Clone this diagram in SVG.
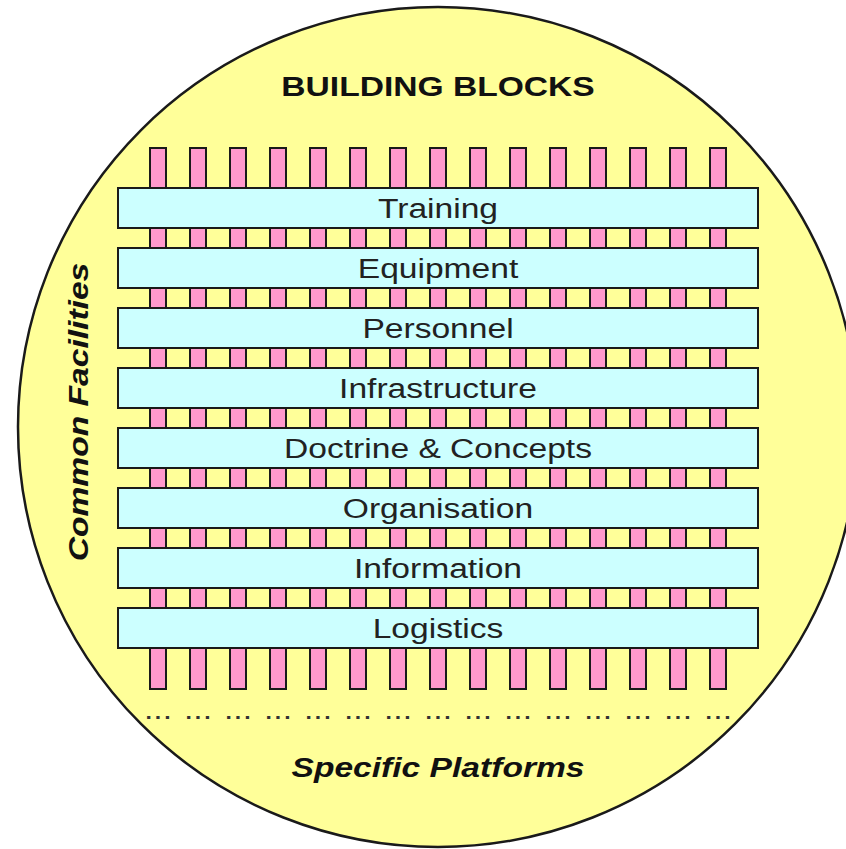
<svg xmlns="http://www.w3.org/2000/svg" width="846" height="849" viewBox="0 0 846 849">
<style>
.bg{fill:#ffff99;stroke:#1a1a1a;stroke-width:2.5}
.pil{fill:#ff99cc;stroke:#1a1a1a;stroke-width:2}
.bar{fill:#ccffff;stroke:#1a1a1a;stroke-width:2}
.lbl{font-family:"Liberation Sans",Arial,sans-serif;font-size:28px;fill:#222;text-anchor:middle}
.ttl{font-family:"Liberation Sans",Arial,sans-serif;font-size:28px;font-weight:bold;fill:#111;text-anchor:middle}
.it{font-style:italic}
.dots{font-family:"Liberation Sans",Arial,sans-serif;font-size:28px;fill:#333;text-anchor:middle}
</style>
<rect width="846" height="849" fill="#ffffff"/>
<circle id="circle" class="bg" cx="438" cy="427" r="420"/>
<g id="title"><text class="ttl" transform="translate(438,96) scale(1.2,1)">BUILDING BLOCKS</text></g>
<g id="side"><text class="ttl it" transform="translate(88,412) rotate(-90) scale(1.2,1)">Common Facilities</text></g>
<g id="bottom"><text class="ttl it" transform="translate(438,777) scale(1.2,1)">Specific Platforms</text></g>
<g id="pillars">
<rect class="pil" x="150" y="148" width="16" height="541"/>
<rect class="pil" x="190" y="148" width="16" height="541"/>
<rect class="pil" x="230" y="148" width="16" height="541"/>
<rect class="pil" x="270" y="148" width="16" height="541"/>
<rect class="pil" x="310" y="148" width="16" height="541"/>
<rect class="pil" x="350" y="148" width="16" height="541"/>
<rect class="pil" x="390" y="148" width="16" height="541"/>
<rect class="pil" x="430" y="148" width="16" height="541"/>
<rect class="pil" x="470" y="148" width="16" height="541"/>
<rect class="pil" x="510" y="148" width="16" height="541"/>
<rect class="pil" x="550" y="148" width="16" height="541"/>
<rect class="pil" x="590" y="148" width="16" height="541"/>
<rect class="pil" x="630" y="148" width="16" height="541"/>
<rect class="pil" x="670" y="148" width="16" height="541"/>
<rect class="pil" x="710" y="148" width="16" height="541"/>
</g>
<g id="dots">
<text class="dots" transform="translate(158,719) scale(1.2,1)">...</text>
<text class="dots" transform="translate(198,719) scale(1.2,1)">...</text>
<text class="dots" transform="translate(238,719) scale(1.2,1)">...</text>
<text class="dots" transform="translate(278,719) scale(1.2,1)">...</text>
<text class="dots" transform="translate(318,719) scale(1.2,1)">...</text>
<text class="dots" transform="translate(358,719) scale(1.2,1)">...</text>
<text class="dots" transform="translate(398,719) scale(1.2,1)">...</text>
<text class="dots" transform="translate(438,719) scale(1.2,1)">...</text>
<text class="dots" transform="translate(478,719) scale(1.2,1)">...</text>
<text class="dots" transform="translate(518,719) scale(1.2,1)">...</text>
<text class="dots" transform="translate(558,719) scale(1.2,1)">...</text>
<text class="dots" transform="translate(598,719) scale(1.2,1)">...</text>
<text class="dots" transform="translate(638,719) scale(1.2,1)">...</text>
<text class="dots" transform="translate(678,719) scale(1.2,1)">...</text>
<text class="dots" transform="translate(718,719) scale(1.2,1)">...</text>
</g>
<g id="connectors"></g>
<g id="training"><rect class="bar" x="118" y="188" width="640" height="40"/><text class="lbl" transform="translate(438,218) scale(1.2,1)">Training</text></g>
<g id="equipment"><rect class="bar" x="118" y="248" width="640" height="40"/><text class="lbl" transform="translate(438,278) scale(1.2,1)">Equipment</text></g>
<g id="personnel"><rect class="bar" x="118" y="308" width="640" height="40"/><text class="lbl" transform="translate(438,338) scale(1.2,1)">Personnel</text></g>
<g id="infrastructure"><rect class="bar" x="118" y="368" width="640" height="40"/><text class="lbl" transform="translate(438,398) scale(1.2,1)">Infrastructure</text></g>
<g id="doctrine"><rect class="bar" x="118" y="428" width="640" height="40"/><text class="lbl" transform="translate(438,458) scale(1.2,1)">Doctrine &amp; Concepts</text></g>
<g id="organisation"><rect class="bar" x="118" y="488" width="640" height="40"/><text class="lbl" transform="translate(438,518) scale(1.2,1)">Organisation</text></g>
<g id="information"><rect class="bar" x="118" y="548" width="640" height="40"/><text class="lbl" transform="translate(438,578) scale(1.2,1)">Information</text></g>
<g id="logistics"><rect class="bar" x="118" y="608" width="640" height="40"/><text class="lbl" transform="translate(438,638) scale(1.2,1)">Logistics</text></g>
</svg>
